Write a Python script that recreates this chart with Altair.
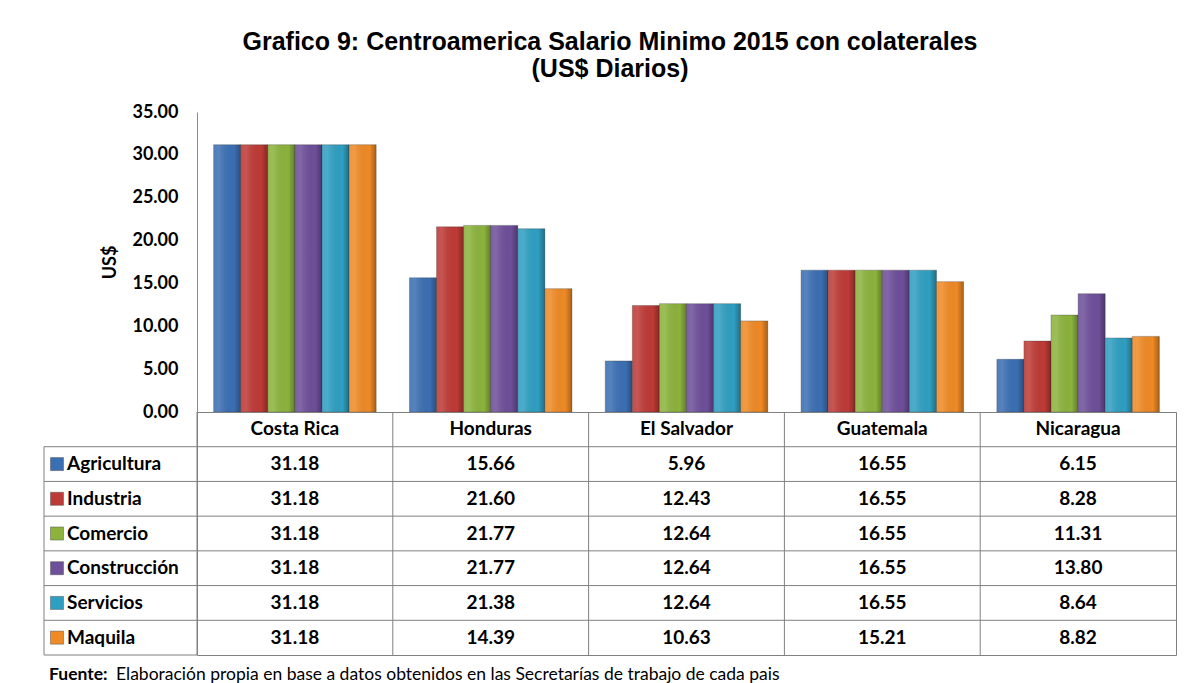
import altair as alt
import pandas as pd

countries = ["Costa Rica", "Honduras", "El Salvador", "Guatemala", "Nicaragua"]
series = ["Agricultura", "Industria", "Comercio", "Construcción", "Servicios", "Maquila"]
colors = ["#3b6fb3", "#be3a36", "#8cb33c", "#6e4f9a", "#2f9fc1", "#ef8a25"]

agricultura = [31.18, 15.66, 5.96, 16.55, 6.15]
industria = [31.18, 21.60, 12.43, 16.55, 8.28]
comercio = [31.18, 21.77, 12.64, 16.55, 11.31]
construccion = [31.18, 21.77, 12.64, 16.55, 13.80]
servicios = [31.18, 21.38, 12.64, 16.55, 8.64]
maquila = [31.18, 14.39, 10.63, 15.21, 8.82]

y_ticks = [0, 5, 10, 15, 20, 25, 30, 35]
rows = ["header"] + series

all_vals = [agricultura, industria, comercio, construccion, servicios, maquila]
records = []
for s, vals in zip(series, all_vals):
    for c, v in zip(countries, vals):
        records.append({"country": c, "series": s, "value": v, "label": f"{v:.2f}"})
df = pd.DataFrame(records)

FONT = "Lato"
FS = 18
TFS = 19
W, H = 979, 300
TH = 243

color_scale = alt.Scale(domain=series, range=colors)

base = alt.Chart(df).encode(
    x=alt.X("country:N", sort=countries, axis=None,
            scale=alt.Scale(domain=countries, paddingInner=0.17, paddingOuter=0.085)),
    xOffset=alt.XOffset("series:N", sort=series,
                        scale=alt.Scale(domain=series, paddingInner=0, paddingOuter=0)),
    y=alt.Y("value:Q",
            scale=alt.Scale(domain=[0, 35], nice=False),
            axis=alt.Axis(values=y_ticks, format=".2f", title="US$", grid=False,
                          ticks=False, tickSize=0, domainColor="#8c8c8c",
                          labelFont=FONT, labelFontSize=FS, labelFontWeight="bold",
                          labelColor="#000000", labelPadding=19,
                          titleFont=FONT, titleFontSize=18, titleFontWeight="bold",
                          titleColor="#000000", titlePadding=12)),
)

bars = base.mark_bar(stroke="#333333", strokeWidth=0.6, strokeOpacity=0.5).encode(
    color=alt.Color("series:N", sort=series, scale=color_scale, legend=None)
)
shade = base.mark_bar(
    fill=alt.Gradient(
        gradient="linear", x1=0, x2=1, y1=0, y2=0,
        stops=[
            alt.GradientStop(offset=0, color="rgba(255,255,255,0.10)"),
            alt.GradientStop(offset=0.2, color="rgba(255,255,255,0.14)"),
            alt.GradientStop(offset=0.75, color="rgba(0,0,0,0.0)"),
            alt.GradientStop(offset=1, color="rgba(0,0,0,0.30)"),
        ],
    )
)
bar_chart = alt.layer(bars, shade).properties(width=W, height=H)

# ---- table ----
xs = alt.X("country:N", sort=countries, axis=None,
           scale=alt.Scale(domain=countries, paddingInner=0, paddingOuter=0))
yscale = alt.Scale(domain=rows, paddingInner=0, paddingOuter=0)

cells = alt.Chart(df).mark_text(font=FONT, fontSize=TFS, fontWeight="bold", color="#000000").encode(
    x=xs,
    y=alt.Y("series:N", scale=yscale, axis=None),
    text="label:N",
)

hdr_df = pd.DataFrame({"country": countries, "row": ["header"] * len(countries)})
header = alt.Chart(hdr_df).mark_text(font=FONT, fontSize=TFS, fontWeight="bold", color="#000000").encode(
    x=xs,
    y=alt.Y("row:N", scale=yscale, axis=None),
    text="country:N",
)

vlines = alt.Chart(pd.DataFrame({"country": countries})).mark_rule(color="#808080", strokeWidth=1).encode(
    x=alt.X("country:N", sort=countries, axis=None, bandPosition=0,
            scale=alt.Scale(domain=countries, paddingInner=0, paddingOuter=0)),
    y=alt.value(0),
    y2=alt.value(TH),
)

hlines = alt.Chart(pd.DataFrame({"row": series})).mark_rule(color="#808080", strokeWidth=1).encode(
    y=alt.Y("row:N", scale=yscale, axis=None, bandPosition=0),
    x=alt.value(-153),
    x2=alt.value(W),
)

left_border = alt.Chart(pd.DataFrame({"row": ["Agricultura"]})).mark_rule(color="#808080", strokeWidth=1).encode(
    y=alt.Y("row:N", scale=yscale, axis=None, bandPosition=0),
    y2=alt.value(TH),
    x=alt.value(-153),
)
bottom_border = alt.Chart(pd.DataFrame({"row": ["x"]})).mark_rule(color="#808080", strokeWidth=1).encode(
    y=alt.value(TH),
    x=alt.value(-153),
    x2=alt.value(0),
)

sw_df = pd.DataFrame({"series": series})
swatches = alt.Chart(sw_df).mark_point(shape="square", filled=True, size=170, opacity=1,
                                       stroke="#555555", strokeWidth=0.5).encode(
    y=alt.Y("series:N", scale=yscale, axis=None),
    x=alt.value(-140),
    color=alt.Color("series:N", sort=series, scale=color_scale, legend=None),
)
row_labels = alt.Chart(sw_df).mark_text(font=FONT, fontSize=TFS, fontWeight="bold", color="#000000",
                                        align="left").encode(
    y=alt.Y("series:N", scale=yscale, axis=None),
    x=alt.value(-130),
    text="series:N",
)

foot_df = pd.DataFrame({"t": ["Fuente:"]})
foot1 = alt.Chart(foot_df).mark_text(font=FONT, fontSize=17.5, fontWeight="bold", color="#000000",
                                     align="left").encode(
    x=alt.value(-148), y=alt.value(TH + 20), text="t:N")
foot_df2 = pd.DataFrame({"t": ["Elaboración propia en base a datos  obtenidos en las Secretarías de trabajo de cada pais"]})
foot2 = alt.Chart(foot_df2).mark_text(font=FONT, fontSize=17.5, color="#000000",
                                      align="left").encode(
    x=alt.value(-81), y=alt.value(TH + 20), text="t:N")

table = alt.layer(cells, header, vlines, hlines, left_border, bottom_border,
                  swatches, row_labels, foot1, foot2).properties(
    width=W, height=TH,
    view=alt.ViewBackground(stroke="#808080", strokeWidth=1),
)

chart = alt.vconcat(
    bar_chart, table, spacing=0, bounds="flush",
    title=alt.Title(
        ["Grafico 9: Centroamerica Salario Minimo 2015 con colaterales", "(US$ Diarios)"],
        font="Liberation Sans", fontSize=25, fontWeight="bold", color="#000000",
        anchor="middle", lineHeight=27, offset=21,
    ),
).properties(
    padding={"left": 35, "top": 21, "right": 5, "bottom": 5},
    background="#ffffff",
).configure_view(stroke="transparent")

chart.save("out.html", embed_options={"renderer": "svg", "actions": False})
